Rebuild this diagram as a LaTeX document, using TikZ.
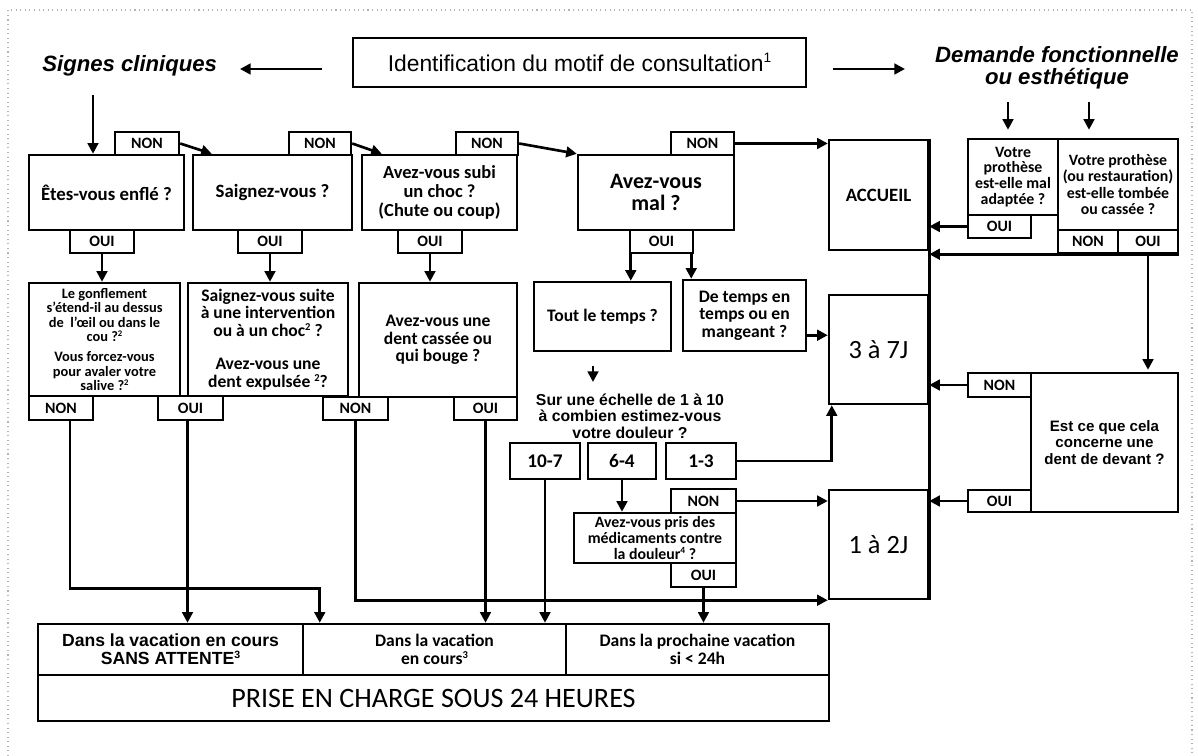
\documentclass[tikz,border=0pt]{standalone}
\usepackage{fontspec}
\usepackage{graphicx}
\setmainfont{Carlito}
\newfontfamily\arialf{Liberation Sans}
\usetikzlibrary{arrows.meta,calc}
\newcommand\bx[7]{\node[#6, minimum width={(#4-#2)*0.02cm}, minimum height={(#5-#3)*0.02cm}] (#1) at ({(#2+#4)/2},{(#3+#5)/2}) {#7};}
\newcommand\supnum[1]{\raisebox{0.7ex}{\scalebox{0.6}{#1}}}
\begin{document}
\begin{tikzpicture}[x=0.02cm,y=-0.02cm,
 box/.style={draw,line width=1.4pt,inner sep=1pt,align=center,font=\bfseries\fontsize{10}{10}\selectfont},
 tab/.style={draw,line width=1.4pt,inner sep=0pt,font=\bfseries\fontsize{9}{9}\selectfont},
 arr/.style={line width=1.5pt,-{Triangle[length=6pt,width=6pt]}},
 ln/.style={line width=1.5pt},
 hdr/.style={font=\arialf\bfseries\itshape\fontsize{12.6}{12.6}\selectfont,align=center,inner sep=0pt}
 ]
\useasboundingbox (0,0) rectangle (1198,756);
\draw[gray!60,dotted,line width=0.6pt] (8,756) -- (8,10) -- (1192,10) -- (1192,756);

% header
\bx{title}{353}{38}{806}{87}{box,font=\arialf\fontsize{13}{13}\selectfont}{Identification du motif de consultation\supnum{1}}
\node[hdr,anchor=base west] (signes) at (42,72) {Signes cliniques};
\node[hdr] (demande) at (1057,68) {Demande fonctionnelle\\ou esthétique};

% row 1
\bx{q1}{29}{155}{184}{230}{box,font=\bfseries\fontsize{10.7}{10.7}\selectfont}{Êtes-vous enflé ?}
\bx{n1}{115}{132}{179}{155}{tab}{NON}
\bx{o1}{70}{230}{134}{253}{tab}{OUI}
\bx{q2}{193}{155}{352}{230}{box,font=\bfseries\fontsize{10.7}{10.7}\selectfont}{Saignez-vous ?}
\bx{n2}{289}{132}{351}{155}{tab}{NON}
\bx{o2}{238}{230}{302}{253}{tab}{OUI}
\bx{q3}{362}{155}{517}{230}{box,font=\bfseries\fontsize{10.5}{10.6}\selectfont}{Avez-vous subi\\un choc ?\\(Chute ou coup)}
\bx{n3}{456}{132}{518}{155}{tab}{NON}
\bx{o3}{398}{230}{462}{253}{tab}{OUI}
\bx{q4}{578}{155}{734}{230}{box,font=\bfseries\fontsize{12.5}{12}\selectfont}{Avez-vous\\mal ?}
\bx{n4}{671}{132}{734}{155}{tab}{NON}
\bx{o4}{630}{230}{693}{253}{tab}{OUI}
\bx{acc}{829}{140}{928}{250}{box,font=\bfseries\fontsize{10.7}{10.7}\selectfont}{ACCUEIL}
\bx{p1}{968}{139}{1058}{215}{box,inner sep=0pt,font=\bfseries\fontsize{9}{9}\selectfont}{Votre\\prothèse\\est-elle mal\\adaptée ?}
\bx{op1}{968}{215}{1031}{238}{tab}{OUI}
\bx{p2}{1058}{139}{1178}{230}{box,inner sep=0pt,font=\bfseries\fontsize{9}{9.4}\selectfont}{Votre prothèse\\(ou restauration)\\est-elle tombée\\ou cassée ?}
\bx{np2}{1058}{230}{1118}{253}{tab}{NON}
\bx{op2}{1118}{230}{1178}{253}{tab}{OUI}

% row 2
\bx{r1}{29}{283}{180}{396}{box,inner sep=0pt,font=\bfseries\fontsize{8.2}{8.3}\selectfont}{Le gonflement\\s’étend-il au dessus\\de \ l’œil ou dans le\\cou ?\supnum{2}\\[3pt]Vous forcez-vous\\pour avaler votre\\salive ?\supnum{2}}
\bx{nr1}{29}{396}{93}{420}{tab}{NON}
\bx{or1}{158}{396}{223}{420}{tab}{OUI}
\bx{r2}{188}{283}{348}{396}{box,inner sep=0pt,font=\bfseries\fontsize{10}{10}\selectfont}{Saignez-vous suite\\à une intervention\\ou à un choc\supnum{2} ?\\[9pt]Avez-vous une\\dent expulsée \supnum{2}?}
\bx{r3}{359}{283}{517}{397}{box}{Avez-vous une\\dent cassée ou\\qui bouge ?}
\bx{nr3}{323}{397}{388}{420}{tab}{NON}
\bx{or3}{454}{397}{517}{420}{tab}{OUI}
\bx{tout}{534}{282}{671}{351}{box}{Tout le temps ?}
\bx{dtt}{683}{280}{806}{351}{box}{De temps en\\temps ou en\\mangeant ?}
\bx{d37}{829}{295}{928}{404}{box,font=\fontsize{15}{15}\selectfont}{3 à 7J}
\node[font=\arialf\bfseries\fontsize{9}{9.4}\selectfont,align=center,inner sep=0pt] (ech) at (630,416) {Sur une échelle de 1 à 10\\à combien estimez-vous\\votre douleur ?};
\bx{s107}{510}{443}{580}{479}{box,font=\bfseries\fontsize{11}{11}\selectfont}{10-7}
\bx{s64}{588}{443}{656}{479}{box,font=\bfseries\fontsize{11}{11}\selectfont}{6-4}
\bx{s13}{666}{443}{736}{479}{box,font=\bfseries\fontsize{11}{11}\selectfont}{1-3}
\bx{nmed}{671}{489}{736}{513}{tab}{NON}
\bx{med}{574}{513}{736}{563}{box,inner sep=0pt,font=\bfseries\fontsize{9}{9}\selectfont}{Avez-vous pris des\\médicaments contre\\la douleur\supnum{4} ?}
\bx{omed}{671}{563}{736}{587}{tab}{OUI}
\bx{d12}{829}{490}{928}{599}{box,font=\fontsize{15}{15}\selectfont}{1 à 2J}
\bx{est}{1031}{373}{1178}{512}{box,font=\arialf\bfseries\fontsize{8.6}{9.6}\selectfont}{Est ce que cela\\concerne une\\dent de devant ?}
\bx{nest}{968}{373}{1031}{397}{tab}{NON}
\bx{oest}{968}{490}{1031}{512}{tab}{OUI}

% bottom
\bx{v1}{38}{624}{303}{675}{box,font=\arialf\bfseries\fontsize{10}{10.2}\selectfont}{Dans la vacation en cours\\SANS ATTENTE\supnum{3}}
\bx{v2}{303}{624}{566}{675}{box,font=\bfseries\fontsize{10}{10.2}\selectfont}{Dans la vacation\\en cours\supnum{3}}
\bx{v3}{566}{624}{829}{675}{box,font=\bfseries\fontsize{10}{10.2}\selectfont}{Dans la prochaine vacation\\si < 24h}
\bx{prise}{38}{675}{829}{721}{box,font=\fontsize{16}{16}\selectfont}{PRISE EN CHARGE SOUS 24 HEURES}

% header arrows
\coordinate (tl1) at (322,69); \coordinate (tl2) at (240,69);
\draw[arr] (tl1) -- (tl2);
\coordinate (tr1) at (833,69); \coordinate (tr2) at (905,69);
\draw[arr] (tr1) -- (tr2);
\coordinate (sA) at (93,95);
\draw[arr] (sA) -- (sA |- q1.north);
\coordinate (dm1) at (1008,102); \coordinate (dm2) at (1089,102);
\draw[arr,shorten >=0.16cm] (dm1) -- (dm1 |- p1.north);
\draw[arr,shorten >=0.16cm] (dm2) -- (dm2 |- p2.north);

% row 1 connectors
\draw[arr] (n1.east) -- ($(q2.north west)+(20,0)$);
\draw[arr] (n2.east) -- ($(q3.north west)+(21,0)$);
\draw[arr] (n3.east) -- (q4.north west);
\draw[arr] (n4.east) -- (n4.east -| acc.west);
\draw[arr] (o1.south) -- (o1.south |- r1.north);
\draw[arr] (o2.south) -- (o2.south |- r2.north);
\draw[arr] (o3.south) -- (o3.south |- r3.north);
\coordinate (o4a) at ($(o4.south west)+(2,0)$);
\coordinate (o4b) at ($(o4.south east)+(-3,0)$);
\draw[arr] (o4a) -- (o4a |- tout.north);
\draw[arr] (o4b) -- (o4b |- dtt.north);
\coordinate (dA) at ($(dtt.south east)+(0,-17)$);
\draw[arr] (dA) -- (dA -| d37.west);
\coordinate (fa1) at (593,366); \coordinate (fa2) at (593,382);
\draw[arr] (fa1) -- (fa2);

% scores
\draw[arr] (s13.east) -| ($(d37.south west)+(4,0)$);
\draw[arr] (s64.south) -- (s64.south |- med.north);
\draw[arr] (s107.south) -- (s107.south |- v2.north);
\draw[arr] (nmed.east) -- (nmed.east -| d12.west);
\draw[arr] (omed.south) -- (omed.south |- v3.north);

% row 2 connectors
\coordinate (c1) at ($(nr1.south)+(9,0)$);
\coordinate (c1b) at ($(v2.north west)+(18,-34)$);
\draw[arr] (c1) |- (c1b) -- (c1b |- v2.north);
\coordinate (c2) at ($(or1.south)+(-3,0)$);
\draw[arr] (c2) -- (c2 |- v1.north);
\draw[arr] (nr3.south) |- (d12.south west);
\draw[arr] (or3.south) -- (or3.south |- v2.north);

% right side
\draw[ln] (acc.north east) -- (d12.south east);
\draw[arr] (op1.west) -- (op1.west -| acc.east);
\draw[arr] (op2.south east) -- (op2.south east -| acc.east);
\draw[arr,shorten >=0.04cm] (op2.south) -- (op2.south |- est.north);
\draw[arr] (nest.west) -- (nest.west -| acc.east);
\draw[arr] (oest.west) -- (oest.west -| acc.east);
\end{tikzpicture}
\end{document}
